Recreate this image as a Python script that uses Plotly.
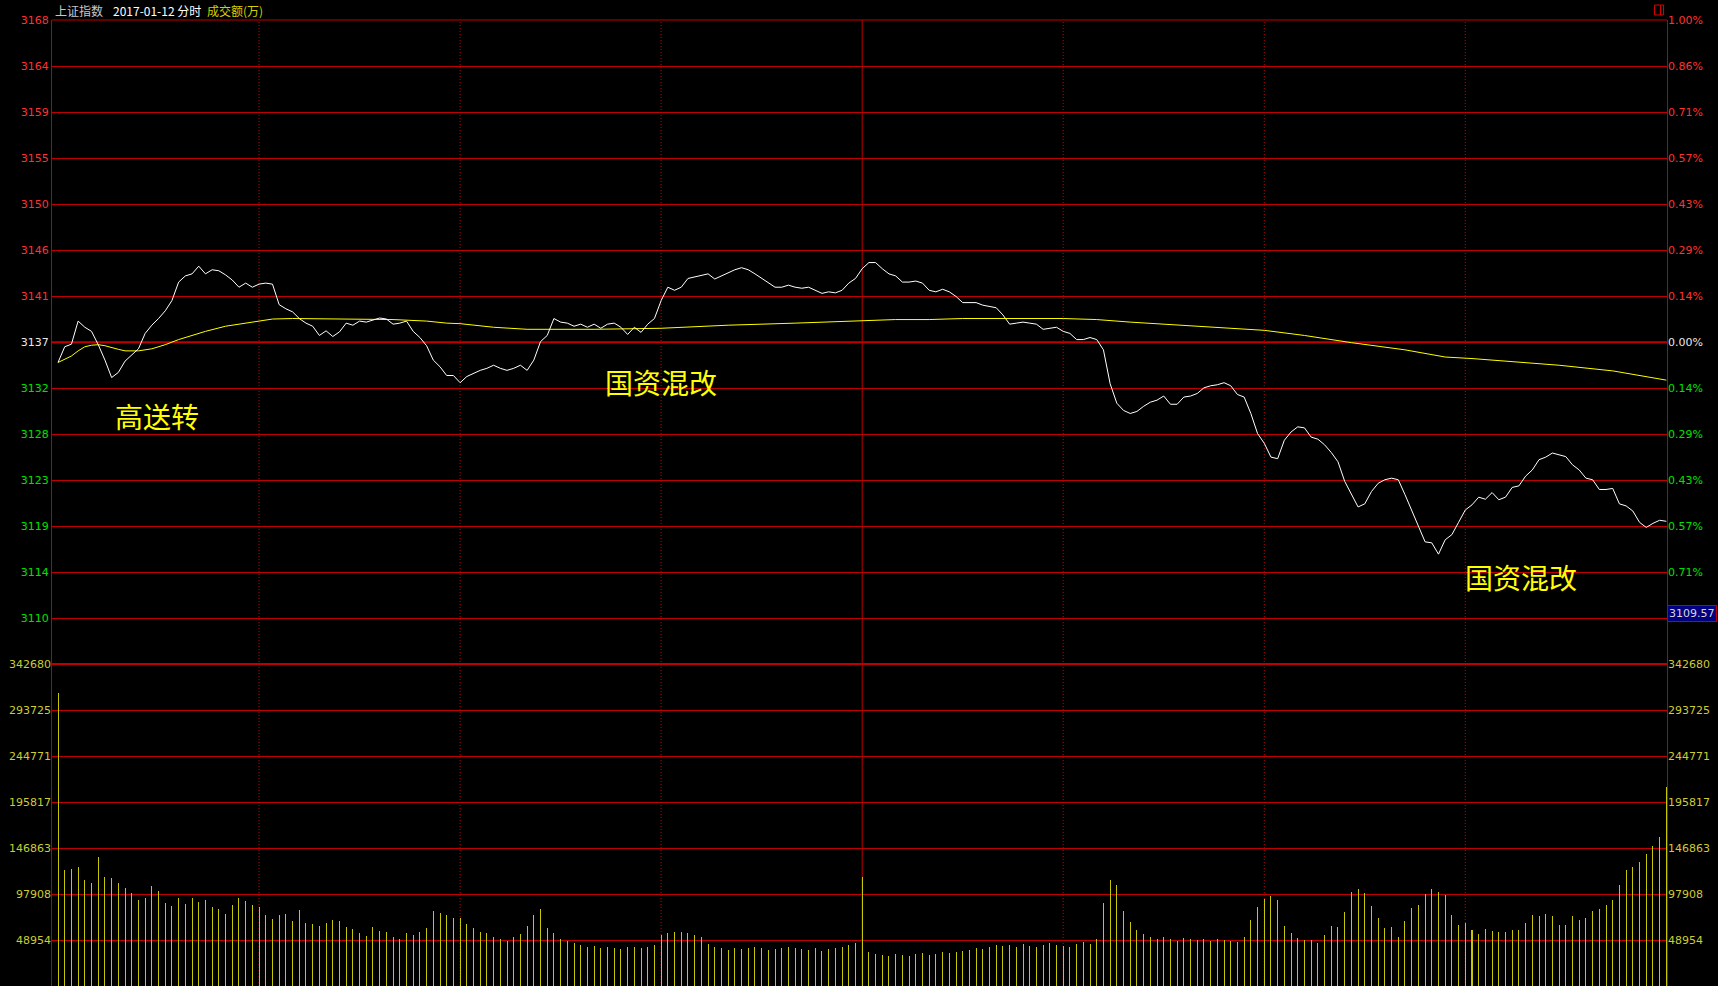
import plotly.graph_objects as go

# ---------------- data ----------------
prev_close = 3136.75

price_ticks = [3168.12, 3163.64, 3159.16, 3154.68, 3150.19, 3145.71, 3141.23,
               3136.75, 3132.27, 3127.79, 3123.31, 3118.83, 3114.35, 3109.87]
price_labels = ["3168", "3164", "3159", "3155", "3150", "3146", "3141",
                "3137", "3132", "3128", "3123", "3119", "3114", "3110"]
# the last level's percentage is covered by the price tag in the original
pct_labels = ["1.00%", "0.86%", "0.71%", "0.57%", "0.43%", "0.29%", "0.14%",
              "0.00%", "0.14%", "0.29%", "0.43%", "0.57%", "0.71%", ""]
vol_ticks = [48954, 97908, 146863, 195817, 244771, 293725, 342680]
vol_labels = ["48954", "97908", "146863", "195817", "244771", "293725", "342680"]
tag_price = "3109.57"

minutes = list(range(241))

prices = [
    3134.77, 3136.3, 3136.55, 3138.8, 3138.2, 3137.8, 3136.5, 3135.0, 3133.3, 3133.8,
    3134.9, 3135.5, 3136.1, 3137.6, 3138.4, 3139.05, 3139.8, 3140.8, 3142.6, 3143.2,
    3143.4, 3144.15, 3143.4, 3143.8, 3143.7, 3143.3, 3142.8, 3142.1, 3142.5, 3142.1,
    3142.4, 3142.5, 3142.4, 3140.4, 3140.0, 3139.7, 3139.05, 3138.6, 3138.3, 3137.4,
    3137.85, 3137.3, 3137.75, 3138.6, 3138.4, 3138.8, 3138.7, 3138.9, 3139.1, 3139.0,
    3138.5, 3138.6, 3138.8, 3137.8, 3137.2, 3136.4, 3135.0, 3134.35, 3133.5, 3133.5,
    3132.8, 3133.4, 3133.7, 3134.0, 3134.2, 3134.5, 3134.2, 3134.0, 3134.2, 3134.5,
    3134.0, 3135.0, 3136.8, 3137.4, 3139.05, 3138.7, 3138.6, 3138.3, 3138.5, 3138.2,
    3138.5, 3138.1, 3138.5, 3138.6, 3138.2, 3137.5, 3138.2, 3137.7, 3138.5, 3139.05,
    3140.8, 3142.1, 3141.8, 3142.1, 3142.95, 3143.1, 3143.2, 3143.4, 3142.9, 3143.2,
    3143.5, 3143.8, 3144.0, 3143.8, 3143.4, 3142.95, 3142.5, 3142.1, 3142.1, 3142.3,
    3142.1, 3142.0, 3142.1, 3141.8, 3141.5, 3141.65, 3141.55, 3141.8, 3142.5, 3142.95,
    3143.9, 3144.5, 3144.5, 3143.9, 3143.4, 3143.2, 3142.6, 3142.6, 3142.7, 3142.5,
    3141.8, 3141.65, 3141.9, 3141.65, 3141.2, 3140.6, 3140.6, 3140.6, 3140.35, 3140.2,
    3140.1, 3139.4, 3138.5, 3138.6, 3138.7, 3138.6, 3138.5, 3138.0, 3138.1, 3138.2,
    3137.8, 3137.6, 3137.0, 3137.0, 3137.2, 3137.0, 3136.0, 3132.7, 3130.8, 3130.1,
    3129.8, 3130.0, 3130.5, 3130.9, 3131.1, 3131.5, 3130.7, 3130.7, 3131.4, 3131.5,
    3131.75, 3132.3, 3132.5, 3132.6, 3132.8, 3132.5, 3131.65, 3131.4, 3129.8, 3127.85,
    3126.9, 3125.55, 3125.4, 3127.2, 3128.0, 3128.5, 3128.4, 3127.5, 3127.3, 3126.75,
    3126.0, 3125.1, 3123.2, 3121.9, 3120.7, 3121.0, 3122.2, 3123.0, 3123.35, 3123.5,
    3123.35, 3121.9, 3120.4, 3118.9, 3117.3, 3117.2, 3116.1, 3117.5, 3118.0, 3119.2,
    3120.4, 3120.9, 3121.65, 3121.45, 3122.1, 3121.4, 3121.65, 3122.6, 3122.75, 3123.7,
    3124.3, 3125.3, 3125.55, 3125.95, 3125.8, 3125.6, 3124.8, 3124.3, 3123.5, 3123.35,
    3122.4, 3122.4, 3122.5, 3121.0, 3120.8, 3120.3, 3119.2, 3118.7, 3119.1, 3119.4,
    3119.3,
]

avg_minutes = [0, 1, 2, 3, 4, 5, 6, 7, 8, 9, 10, 12, 14, 16, 18, 20, 22, 25, 28, 30,
               32, 35, 40, 50, 55, 58, 60, 65, 70, 80, 90, 100, 110, 120, 125, 130,
               135, 150, 155, 160, 165, 170, 175, 180, 186, 193, 201, 207, 211, 218,
               224, 232, 236, 240]
avg_prices = [3134.77, 3135.1, 3135.4, 3135.9, 3136.3, 3136.45, 3136.5, 3136.4, 3136.2,
              3136.05, 3135.9, 3135.9, 3136.1, 3136.5, 3137.0, 3137.4, 3137.8, 3138.3,
              3138.6, 3138.8, 3139.0, 3139.05, 3139.0, 3138.95, 3138.8, 3138.6, 3138.55,
              3138.2, 3138.0, 3138.0, 3138.1, 3138.4, 3138.6, 3138.8, 3138.95, 3138.95,
              3139.05, 3139.05, 3138.95, 3138.7, 3138.5, 3138.25, 3138.1, 3137.9, 3137.4,
              3136.7, 3136.0, 3135.3, 3135.15, 3134.8, 3134.5, 3133.95, 3133.5, 3133.05]

volumes = [
    312100, 123400, 124500, 126600, 112800, 109600, 137300, 116000, 114900, 109600,
    104300, 99000, 91500, 93600, 106400, 101100, 88300, 85100, 93600, 87300,
    93600, 89400, 91500, 84100, 81900, 76600, 86200, 93600, 90500, 86200,
    84100, 75600, 71300, 75600, 76600, 69200, 80900, 67000, 66000, 63900,
    67000, 70200, 69200, 62800, 60700, 56400, 53200, 62800, 58500, 57500,
    52100, 50000, 56000, 54000, 58000, 62000, 80000, 78000, 76000, 72000,
    72000, 66000, 62000, 57000, 56000, 52000, 50000, 48000, 52000, 55000,
    64000, 76000, 82000, 62000, 56000, 50000, 48000, 46000, 44000, 42000,
    43000, 40000, 42000, 40000, 39000, 42000, 41000, 40000, 42000, 44000,
    54000, 56000, 58000, 57000, 56000, 54000, 52000, 45000, 42000, 40000,
    38000, 40000, 39000, 40000, 41000, 40000, 38000, 39000, 40000, 41000,
    40000, 39000, 38000, 40000, 37000, 39000, 40000, 42000, 44000, 46000,
    116000, 36000, 34000, 33000, 32000, 34000, 33000, 32000, 34000, 35000,
    33000, 34000, 36000, 35000, 36000, 37000, 38000, 40000, 39000, 42000,
    44000, 43000, 44000, 42000, 45000, 43000, 42000, 44000, 46000, 44000,
    43000, 42000, 45000, 47000, 45000, 50000, 88000, 113000, 107000, 80000,
    68000, 60000, 55000, 52000, 50000, 52000, 50000, 48000, 51000, 50000,
    49000, 50000, 48000, 50000, 49000, 48000, 46600, 52500, 70000, 84000,
    93000, 95600, 91000, 64000, 56000, 51300, 48600, 48600, 45800, 54300,
    63900, 62800, 78700, 100000, 103200, 99000, 85100, 72400, 61700, 62800,
    52100, 69200, 83000, 86200, 97900, 103200, 100000, 96800, 75600, 64900,
    67000, 59600, 55300, 60700, 58500, 57500, 57500, 59600, 59600, 67000,
    75600, 74500, 76600, 74500, 64900, 64900, 74500, 70200, 72400, 79800,
    81900, 86200, 91500, 107500, 123400, 126600, 132000, 140500, 149000, 158600,
    211800,
]

# ---------------- styling ----------------
RED = "#FF3232"
GREEN = "#00E000"
WHITE = "#E8E8E8"
VOLC = "#CCCC33"
GRID = "#C00000"
LABEL_FONT = "DejaVu Sans"

step = price_ticks[0] - price_ticks[1]
price_top = price_ticks[0] + 0.005
price_bottom = price_ticks[0] - 21 * step
vol_step = vol_ticks[-1] / 7.0
vol_top = 21 * vol_step


def colored(labels, values):
    out = []
    for lab, v in zip(labels, values):
        if not lab:
            out.append("")
            continue
        if abs(v - prev_close) < 0.01:
            c = WHITE
        elif v > prev_close:
            c = RED
        else:
            c = GREEN
        out.append(f"<span style='color:{c}'>{lab}</span>")
    return out


fig = go.Figure()

fig.add_trace(go.Bar(x=minutes, y=volumes, yaxis="y2", width=0.15,
                     marker=dict(color="#C8C800", line=dict(width=0)),
                     hoverinfo="skip"))
fig.add_trace(go.Scatter(x=avg_minutes, y=avg_prices, mode="lines",
                         line=dict(color="#FFFF00", width=1), yaxis="y",
                         hoverinfo="skip"))
fig.add_trace(go.Scatter(x=minutes, y=prices, mode="lines",
                         line=dict(color="#FFFFFF", width=1), yaxis="y",
                         hoverinfo="skip"))
fig.add_trace(go.Scatter(x=[None], y=[None], yaxis="y3", showlegend=False))
fig.add_trace(go.Scatter(x=[None], y=[None], yaxis="y4", showlegend=False))

tickfont = dict(family=LABEL_FONT, size=11)

fig.update_layout(
    width=1718, height=986,
    margin=dict(l=52, r=51, t=20, b=0, autoexpand=False),
    paper_bgcolor="#000000", plot_bgcolor="#000000",
    showlegend=False, bargap=0,
    xaxis=dict(range=[-0.9, 240.1], showgrid=False, showticklabels=False,
               zeroline=False, showline=False, ticks=""),
    yaxis=dict(range=[price_bottom, price_top], tickvals=price_ticks,
               ticktext=colored(price_labels, price_ticks),
               showgrid=True, gridcolor=GRID, gridwidth=1, zeroline=False,
               showline=True, linecolor=GRID, linewidth=1, mirror=True,
               ticks="", tickfont=tickfont, side="left"),
    yaxis2=dict(range=[0, vol_top], tickvals=vol_ticks, ticktext=vol_labels,
                overlaying="y", side="left", showgrid=True, gridcolor=GRID,
                gridwidth=1, zeroline=False, showline=False, ticks="",
                tickfont=dict(family=LABEL_FONT, size=11, color=VOLC)),
    yaxis3=dict(range=[price_bottom, price_top], tickvals=price_ticks,
                ticktext=colored(pct_labels, price_ticks),
                overlaying="y", side="right", showgrid=False, zeroline=False,
                showline=False, ticks="", tickfont=tickfont),
    yaxis4=dict(range=[0, vol_top], tickvals=vol_ticks, ticktext=vol_labels,
                overlaying="y", side="right", showgrid=False, zeroline=False,
                showline=False, ticks="",
                tickfont=dict(family=LABEL_FONT, size=11, color=VOLC)),
)

shapes = []
for m in [30, 60, 90, 150, 180, 210]:
    shapes.append(dict(type="line", xref="x", yref="paper", x0=m, x1=m, y0=0, y1=1,
                       line=dict(color=GRID, width=1, dash="1px,2px"), layer="below"))
shapes.append(dict(type="line", xref="x", yref="paper", x0=120, x1=120, y0=0, y1=1,
                   line=dict(color=GRID, width=1), layer="below"))
shapes.append(dict(type="line", xref="paper", yref="y", x0=0, x1=1, y0=prev_close, y1=prev_close,
                   line=dict(color=GRID, width=2), layer="below"))
shapes.append(dict(type="line", xref="paper", yref="y2", x0=0, x1=1, y0=vol_ticks[-1], y1=vol_ticks[-1],
                   line=dict(color=GRID, width=2), layer="below"))
shapes.append(dict(type="line", xref="paper", yref="paper", x0=0, x1=1, y0=1, y1=1,
                   line=dict(color=GRID, width=1)))
shapes.append(dict(type="rect", xref="paper", yref="paper", x0=0.9923, x1=0.9979,
                   y0=1.0052, y1=1.0155, line=dict(color="#E00000", width=1)))
shapes.append(dict(type="line", xref="paper", yref="paper", x0=0.9960, x1=0.9960,
                   y0=1.0052, y1=1.0155, line=dict(color="#E00000", width=1)))
fig.update_layout(shapes=shapes)


def px_x(px):
    return (px - 52) / 1615.0


def px_y(py):
    return (986 - py) / 966.0


ann = []
ann.append(dict(text="上证指数", x=px_x(53), y=px_y(10), xanchor="left", yanchor="middle",
                font=dict(family="Noto Sans CJK SC", size=12, color="#C8C8C8")))
ann.append(dict(text="2017-01-12 分时", x=px_x(111), y=px_y(10), xanchor="left", yanchor="middle",
                font=dict(family="Noto Sans CJK SC", size=12, color="#FFFFFF")))
ann.append(dict(text="成交额(万)", x=px_x(205), y=px_y(10), xanchor="left", yanchor="middle",
                font=dict(family="Noto Sans CJK SC", size=12, color="#D2D200")))
ann.append(dict(text="高送转", x=px_x(157), y=px_y(416), xanchor="center", yanchor="middle",
                font=dict(family="Noto Sans CJK SC", size=28, color="#FFFF00")))
ann.append(dict(text="国资混改", x=px_x(661), y=px_y(382), xanchor="center", yanchor="middle",
                font=dict(family="Noto Sans CJK SC", size=28, color="#FFFF00")))
ann.append(dict(text="国资混改", x=px_x(1521), y=px_y(577), xanchor="center", yanchor="middle",
                font=dict(family="Noto Sans CJK SC", size=28, color="#FFFF00")))
ann.append(dict(text=tag_price, x=px_x(1667), y=px_y(613), xanchor="left", yanchor="middle",
                bgcolor="#000080", bordercolor="#C00000", borderwidth=1, borderpad=1,
                font=dict(family=LABEL_FONT, size=11, color="#D8D8D8")))
for a in ann:
    a.update(xref="paper", yref="paper", showarrow=False)
fig.update_layout(annotations=ann)

fig.write_html(
    "out.html",
    config={"displayModeBar": False, "staticPlot": True},
    post_script="document.body.style.margin='0';document.body.style.padding='0';"
                "document.body.style.overflow='hidden';"
                "document.body.style.background='#000';",
)
